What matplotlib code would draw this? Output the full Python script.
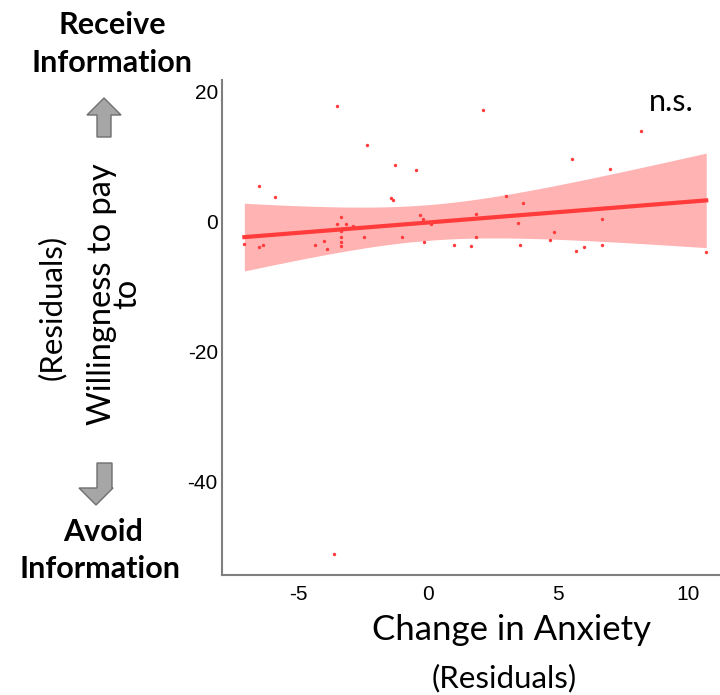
import numpy as np
import matplotlib
matplotlib.use("Agg")
import matplotlib.pyplot as plt
from matplotlib.patches import Polygon

# residual data
anxiety = [-3.49, 2.13, 8.18, -2.35, 5.53, -1.27, -0.47, 6.99, -6.5, -5.9,
           -1.41, -1.35, 2.99, 3.67, 1.86, -0.32, -0.18, -3.35, -3.49, -3.17,
           -2.87, -3.35, 0.13, 6.69, 3.47, -3.35, -3.35, -3.35, -2.46, -0.99,
           1.85, 4.83, 4.68, -7.06, -6.5, -6.35, -4.35, -4.0, -3.9, -0.17,
           0.99, 1.67, 3.55, 6.69, 5.7, 6.0, 10.7, -3.6]
wtp = [17.8, 17.2, 14.0, 11.8, 9.6, 8.7, 8.0, 8.15, 5.5, 3.8,
       3.6, 3.3, 3.9, 2.9, 1.2, 0.97, 0.46, 0.67, -0.36, -0.36,
       -0.72, -1.49, -0.36, 0.41, -0.21, -2.36, -3.08, -3.69, -2.41, -2.36,
       -2.26, -1.59, -2.82, -3.44, -3.95, -3.54, -3.59, -2.92, -4.21, -3.13,
       -3.64, -3.79, -3.54, -3.49, -4.46, -3.95, -4.67, -51.0]
xticks = [-5, 0, 5, 10]
yticks = [20, 0, -20, -40]

plt.rcParams["axes.unicode_minus"] = False

x = np.array(anxiety)
y = np.array(wtp)

# ordinary least squares fit with 95% confidence band
n = len(x)
slope, intercept = np.polyfit(x, y, 1)
resid = y - (slope * x + intercept)
s = np.sqrt(np.sum(resid ** 2) / (n - 2))
sxx = np.sum((x - x.mean()) ** 2)
grid = np.linspace(x.min(), x.max(), 100)
fit = slope * grid + intercept
half = 2.013 * s * np.sqrt(1 / n + (grid - x.mean()) ** 2 / sxx)

W, H = 720, 695
fig = plt.figure(figsize=(W / 100, H / 100), dpi=100)
ax = fig.add_axes([222 / W, 1 - 575 / H, 1 - 222 / W, (575 - 80) / H])

ax.fill_between(grid, fit - half, fit + half, color="#ffb3b3", lw=0, zorder=1)
ax.scatter(x, y, s=6, color="#ff3b3b", lw=0, zorder=2)
ax.plot(grid, fit, color="#ff3b3b", lw=3, zorder=3)

ax.set_xlim(-7.92, 11.23)
ax.set_ylim(-54.3, 21.8)
ax.set_xticks(xticks)
ax.set_yticks(yticks)
ax.tick_params(length=0, labelsize=15)
ax.tick_params(axis="y", pad=3)
ax.tick_params(axis="x", pad=7)
for lab in ax.get_xticklabels() + ax.get_yticklabels():
    lab.set_family("Liberation Sans")
for side in ["top", "right"]:
    ax.spines[side].set_visible(False)
for side in ["left", "bottom"]:
    ax.spines[side].set_color("#7f7f7f")
    ax.spines[side].set_linewidth(1.5)


def px(xp, yp):
    return (xp / W, 1 - yp / H)


fig.text(*px(671, 102), "n.s.", ha="center", va="center",
         fontsize=22, family="Lato")

fig.text(*px(512, 630), "Change in Anxiety", ha="center", va="center",
         fontsize=25, family="Lato")
fig.text(*px(504, 678), "(Residuals)", ha="center", va="center",
         fontsize=22.5, family="Lato")
fig.text(*px(115, 294), "Willingness to pay\nto", ha="center", va="center",
         multialignment="center", linespacing=0.8,
         rotation=90, fontsize=23.5, family="Lato")
fig.text(*px(52, 307), "(Residuals)", ha="center", va="center",
         rotation=90, fontsize=22.5, family="Lato")

fig.text(*px(112, 25), "Receive", ha="center", va="center",
         fontsize=22, family="Lato", weight="bold")
fig.text(*px(112, 63), "Information", ha="center", va="center",
         fontsize=22, family="Lato", weight="bold")
fig.text(*px(103, 532), "Avoid", ha="center", va="center",
         fontsize=22, family="Lato", weight="bold")
fig.text(*px(100, 569), "Information", ha="center", va="center",
         fontsize=22, family="Lato", weight="bold")

up = [(104, 98), (87, 115), (97, 115), (97, 137), (111, 137), (111, 115), (121, 115)]
down = [(97, 463), (112, 463), (112, 488), (113, 488), (96, 505), (79, 488), (97, 488)]
for arrow in (up, down):
    fig.patches.append(Polygon([px(a, b) for a, b in arrow], closed=True,
                               transform=fig.transFigure, facecolor="#a6a6a6",
                               edgecolor="#6f6f6f", lw=1))

fig.savefig("out.png", dpi=100)
